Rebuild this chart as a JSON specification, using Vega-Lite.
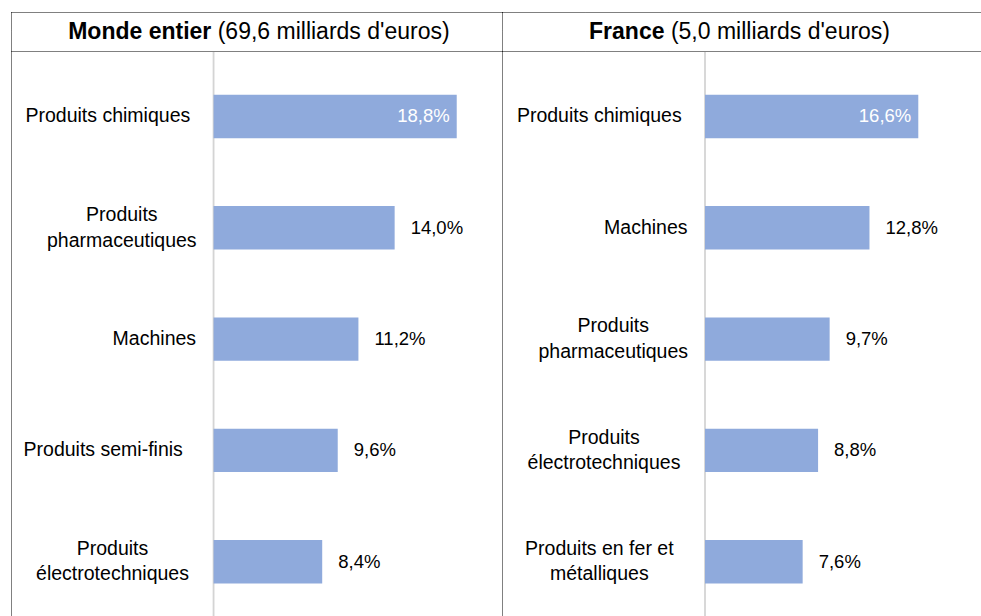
{
  "$schema": "https://vega.github.io/schema/vega-lite/v6.json",
  "padding": {"left": 11, "top": 12, "right": 0, "bottom": 0},
  "autosize": {"type": "pad"},
  "background": "white",
  "config": {
    "view": {"stroke": null},
    "font": "Liberation Sans",
    "concat": {"spacing": 0},
    "axis": {"labels": false, "ticks": false, "grid": false, "domain": true, "domainColor": "#000000", "domainDash": [1, 1], "domainWidth": 1}
  },
  "datasets": {
    "bars": [
      {"panel": "world", "label": "Produits chimiques", "value": 18.8},
      {"panel": "world", "label": "Produits|pharmaceutiques", "value": 14.0},
      {"panel": "world", "label": "Machines", "value": 11.2},
      {"panel": "world", "label": "Produits semi-finis", "value": 9.6},
      {"panel": "world", "label": "Produits|électrotechniques", "value": 8.4},
      {"panel": "france", "label": "Produits chimiques", "value": 16.6},
      {"panel": "france", "label": "Machines", "value": 12.8},
      {"panel": "france", "label": "Produits|pharmaceutiques", "value": 9.7},
      {"panel": "france", "label": "Produits|électrotechniques", "value": 8.8},
      {"panel": "france", "label": "Produits en fer et|métalliques", "value": 7.6}
    ],
    "heads": [
      {"panel": "world", "bold": "Monde entier", "rest": "(69,6 milliards d'euros)"},
      {"panel": "france", "bold": "France", "rest": "(5,0 milliards d'euros)"}
    ]
  },
  "hconcat": [
    {
      "spacing": 0,
      "vconcat": [
        {
          "width": 491, "height": 39,
          "data": {"name": "heads"},
          "transform": [{"filter": "datum.panel == 'world'"}],
          "layer": [
            {
              "mark": {"type": "text", "fontWeight": "bold", "fontSize": 23, "align": "right", "baseline": "middle", "color": "#000000",
                       "dx": {"expr": "-(length(datum.bold)*12.2 + 6.4 + length(datum.rest)*9.6)/2 + length(datum.bold)*12.2"}},
              "encoding": {
                "x": {"datum": 0, "type": "quantitative", "scale": {"domain": [-1, 1]}, "axis": {"orient": "top", "title": null}},
                "y": {"datum": 0, "type": "quantitative", "scale": {"domain": [-1, 1]}, "axis": {"orient": "left", "title": null}},
                "text": {"field": "bold"}
              }
            },
            {
              "mark": {"type": "text", "fontSize": 23, "align": "left", "baseline": "middle", "color": "#000000",
                       "dx": {"expr": "-(length(datum.bold)*12.2 + 6.4 + length(datum.rest)*9.6)/2 + length(datum.bold)*12.2 + 6.4"}},
              "encoding": {
                "x": {"datum": 0, "type": "quantitative", "scale": {"domain": [-1, 1]}, "axis": {"orient": "bottom", "title": null}},
                "text": {"field": "rest"}
              }
            }
          ],
          "resolve": {"scale": {"x": "independent"}, "axis": {"x": "independent"}}
        },
        {
          "width": 491, "height": 565,
          "data": {"name": "bars"},
          "transform": [
            {"filter": "datum.panel == 'world'"},
            {"calculate": "split(datum.label, '|')", "as": "lines"},
            {"calculate": "replace(format(datum.value, '.1f'), '.', ',') + '%'", "as": "vlab"},
            {"joinaggregate": [{"op": "max", "field": "value", "as": "vmax"}]}
          ],
          "layer": [
            {
              "transform": [{"aggregate": [{"op": "count", "as": "n"}]}],
              "mark": {"type": "rule", "color": "#D4D4D4", "strokeWidth": 1.8},
              "encoding": {"x": {"datum": 0, "type": "quantitative", "axis": null}}
            },
            {
              "mark": {"type": "bar", "color": "#8FAADC"},
              "encoding": {
                "y": {"field": "label", "type": "nominal", "sort": null, "title": null,
                      "scale": {"type": "band", "paddingInner": 0.61, "paddingOuter": 0.343, "align": 0.56},
                      "axis": {"orient": "left", "title": null}},
                "x": {"field": "value", "type": "quantitative", "axis": null,
                      "scale": {"domain": [-15.66, 22.3], "nice": false, "zero": false}},
                "x2": {"datum": 0}
              }
            },
            {
              "mark": {"type": "text", "fontSize": 19.5, "align": "center", "baseline": "middle", "lineHeight": 25.5, "color": "#000000",
                       "dx": {"expr": "-22 - 4.65*max(length(datum.lines[0]), length(datum.lines[1] || ''))"},
                       "dy": {"expr": "-(length(datum.lines) - 1)*12.75"}},
              "encoding": {
                "y": {"field": "label", "type": "nominal", "sort": null, "title": null},
                "x": {"datum": 0, "type": "quantitative", "axis": null},
                "text": {"field": "lines"}
              }
            },
            {
              "transform": [{"filter": "datum.value < datum.vmax"}],
              "mark": {"type": "text", "fontSize": 18.5, "align": "left", "baseline": "middle", "dx": 16, "color": "#000000"},
              "encoding": {
                "y": {"field": "label", "type": "nominal", "sort": null, "title": null},
                "x": {"field": "value", "type": "quantitative", "axis": null},
                "text": {"field": "vlab"}
              }
            },
            {
              "transform": [{"filter": "datum.value == datum.vmax"}],
              "mark": {"type": "text", "fontSize": 18.5, "align": "right", "baseline": "middle", "dx": -7, "color": "#FFFFFF"},
              "encoding": {
                "y": {"field": "label", "type": "nominal", "sort": null, "title": null},
                "x": {"field": "value", "type": "quantitative", "axis": null},
                "text": {"field": "vlab"}
              }
            }
          ]
        }
      ]
    },
    {
      "spacing": 0,
      "vconcat": [
        {
          "width": 479, "height": 39,
          "data": {"name": "heads"},
          "transform": [{"filter": "datum.panel == 'france'"}],
          "layer": [
            {
              "mark": {"type": "text", "fontWeight": "bold", "fontSize": 23, "align": "right", "baseline": "middle", "color": "#000000",
                       "dx": {"expr": "-(length(datum.bold)*12.2 + 6.4 + length(datum.rest)*9.6)/2 + length(datum.bold)*12.2"}},
              "encoding": {
                "x": {"datum": 0, "type": "quantitative", "scale": {"domain": [-1, 1]}, "axis": {"orient": "top", "title": null}},
                "y": {"datum": 0, "type": "quantitative", "scale": {"domain": [-1, 1]}, "axis": {"orient": "left", "title": null}},
                "text": {"field": "bold"}
              }
            },
            {
              "mark": {"type": "text", "fontSize": 23, "align": "left", "baseline": "middle", "color": "#000000",
                       "dx": {"expr": "-(length(datum.bold)*12.2 + 6.4 + length(datum.rest)*9.6)/2 + length(datum.bold)*12.2 + 6.4"}},
              "encoding": {
                "x": {"datum": 0, "type": "quantitative", "scale": {"domain": [-1, 1]}, "axis": {"orient": "bottom", "title": null}},
                "text": {"field": "rest"}
              }
            }
          ],
          "resolve": {"scale": {"x": "independent"}, "axis": {"x": "independent"}}
        },
        {
          "width": 479, "height": 565,
          "data": {"name": "bars"},
          "transform": [
            {"filter": "datum.panel == 'france'"},
            {"calculate": "split(datum.label, '|')", "as": "lines"},
            {"calculate": "replace(format(datum.value, '.1f'), '.', ',') + '%'", "as": "vlab"},
            {"joinaggregate": [{"op": "max", "field": "value", "as": "vmax"}]}
          ],
          "layer": [
            {
              "transform": [{"aggregate": [{"op": "count", "as": "n"}]}],
              "mark": {"type": "rule", "color": "#D4D4D4", "strokeWidth": 1.8},
              "encoding": {"x": {"datum": 0, "type": "quantitative", "axis": null}}
            },
            {
              "mark": {"type": "bar", "color": "#8FAADC"},
              "encoding": {
                "y": {"field": "label", "type": "nominal", "sort": null, "title": null,
                      "scale": {"type": "band", "paddingInner": 0.61, "paddingOuter": 0.343, "align": 0.56},
                      "axis": {"orient": "left", "title": null}},
                "x": {"field": "value", "type": "quantitative", "axis": null,
                      "scale": {"domain": [-15.8, 21.48], "nice": false, "zero": false}},
                "x2": {"datum": 0}
              }
            },
            {
              "mark": {"type": "text", "fontSize": 19.5, "align": "center", "baseline": "middle", "lineHeight": 25.5, "color": "#000000",
                       "dx": {"expr": "-22 - 4.65*max(length(datum.lines[0]), length(datum.lines[1] || ''))"},
                       "dy": {"expr": "-(length(datum.lines) - 1)*12.75"}},
              "encoding": {
                "y": {"field": "label", "type": "nominal", "sort": null, "title": null},
                "x": {"datum": 0, "type": "quantitative", "axis": null},
                "text": {"field": "lines"}
              }
            },
            {
              "transform": [{"filter": "datum.value < datum.vmax"}],
              "mark": {"type": "text", "fontSize": 18.5, "align": "left", "baseline": "middle", "dx": 16, "color": "#000000"},
              "encoding": {
                "y": {"field": "label", "type": "nominal", "sort": null, "title": null},
                "x": {"field": "value", "type": "quantitative", "axis": null},
                "text": {"field": "vlab"}
              }
            },
            {
              "transform": [{"filter": "datum.value == datum.vmax"}],
              "mark": {"type": "text", "fontSize": 18.5, "align": "right", "baseline": "middle", "dx": -7, "color": "#FFFFFF"},
              "encoding": {
                "y": {"field": "label", "type": "nominal", "sort": null, "title": null},
                "x": {"field": "value", "type": "quantitative", "axis": null},
                "text": {"field": "vlab"}
              }
            }
          ]
        }
      ]
    }
  ],
  "spacing": 0
}
